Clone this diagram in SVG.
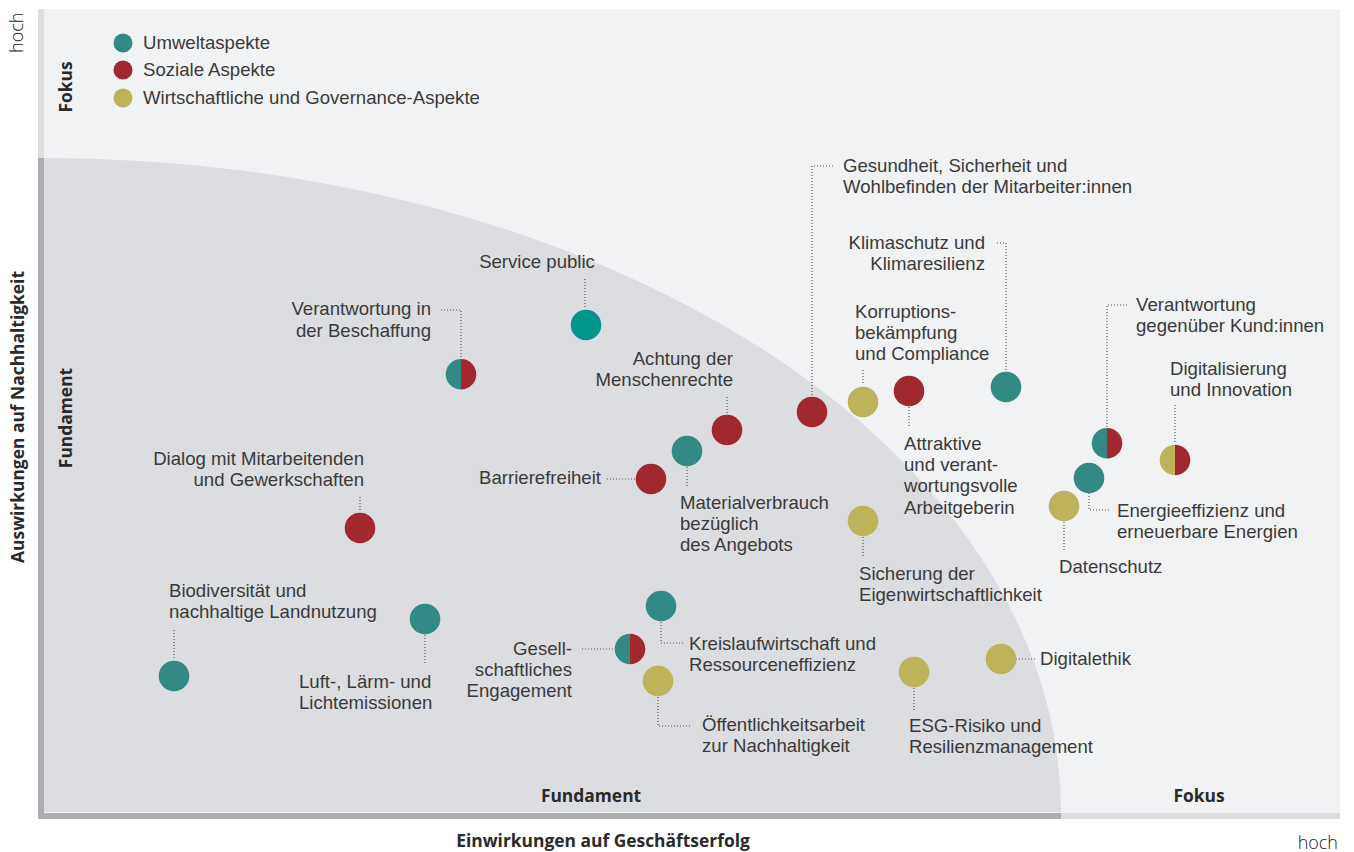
<svg xmlns="http://www.w3.org/2000/svg" width="1354" height="852" viewBox="0 0 1354 852">
<defs>
<style>
.t{font-family:"Liberation Sans",Arial,sans-serif;font-size:18.6px;fill:#3a3a3a;font-weight:400}
.b{font-family:"Open Sans","Liberation Sans",sans-serif;font-size:17.4px;fill:#2a2a2a;font-weight:700}
.h{font-family:"Open Sans","Liberation Sans",sans-serif;font-size:18px;fill:#222;font-weight:300}
.e{fill:#338a84}.s{fill:#a0282e}.w{fill:#bdb35a}.sp{fill:#00968f}
.ld{fill:none;stroke:#555;stroke-width:1.2;stroke-dasharray:1 2}
.r{text-anchor:end}
</style>
</defs>
<rect x="0" y="0" width="1354" height="852" fill="#ffffff"/>
<g id="background">
<rect x="38" y="9" width="1302" height="810" fill="#f1f2f4"/>
<path d="M44,812 L44,158 A1017,654 0 0 1 1061,812 Z" fill="#dcdde0"/>
<rect x="38" y="9" width="6" height="149" fill="#dcdde0"/>
<rect x="38" y="158" width="6" height="661" fill="#adaeb2"/>
<rect x="38" y="813" width="1023" height="6" fill="#adaeb2"/>
<rect x="1061" y="813" width="279" height="6" fill="#dcdde0"/>
</g>
<g id="axes">
<text class="h" transform="translate(23,53) rotate(-90)">hoch</text>
<text class="h r" x="1338" y="849">hoch</text>
<text class="b" transform="translate(24,417) rotate(-90)" text-anchor="middle">Auswirkungen auf Nachhaltigkeit</text>
<text class="b" x="603" y="847" text-anchor="middle">Einwirkungen auf Geschäftserfolg</text>
<text class="b" transform="translate(72,87) rotate(-90)" text-anchor="middle">Fokus</text>
<text class="b" transform="translate(72,418) rotate(-90)" text-anchor="middle">Fundament</text>
<text class="b" x="591" y="802" text-anchor="middle">Fundament</text>
<text class="b" x="1199" y="802" text-anchor="middle">Fokus</text>
</g>
<g id="legend">
<circle class="e" cx="123" cy="43" r="9.5"/><text class="t" x="143" y="49">Umweltaspekte</text>
<circle class="s" cx="123" cy="70" r="9.5"/><text class="t" x="143" y="76">Soziale Aspekte</text>
<circle class="w" cx="123" cy="98" r="9.5"/><text class="t" x="143" y="104">Wirtschaftliche und Governance-Aspekte</text>
</g>
<g id="connectors">
<path class="ld" d="M585,279 V309"/>
<path class="ld" d="M441,310 H461 V358"/>
<path class="ld" d="M727,397 V414"/>
<path class="ld" d="M607,479 H635"/>
<path class="ld" d="M687,467 V488"/>
<path class="ld" d="M360,497 V512"/>
<path class="ld" d="M174,630 V659"/>
<path class="ld" d="M425,635 V663"/>
<path class="ld" d="M582,649 H614"/>
<path class="ld" d="M661,622 V643 H683"/>
<path class="ld" d="M658,697 V726 H692"/>
<path class="ld" d="M863,537 V558"/>
<path class="ld" d="M914,688 V710"/>
<path class="ld" d="M1016,659 H1035"/>
<path class="ld" d="M833,166 H812 V396"/>
<path class="ld" d="M863,370 V385"/>
<path class="ld" d="M909,407 V428"/>
<path class="ld" d="M997,243 H1006 V370"/>
<path class="ld" d="M1127,305 H1107 V427"/>
<path class="ld" d="M1175,405 V444"/>
<path class="ld" d="M1089,493 V510 H1111"/>
<path class="ld" d="M1064,522 V552"/>
</g>
<g id="service-public">
<circle class="sp" cx="586" cy="325" r="15.3"/>
<text class="t" x="537" y="268" text-anchor="middle">Service public</text>
</g>
<g id="verantwortung-beschaffung">
<path class="e" d="M461,359 A15.3,15.3 0 0 0 461,389.6 Z"/>
<path class="s" d="M461,359 A15.3,15.3 0 0 1 461,389.6 Z"/>
<text class="t r" x="431" y="315">Verantwortung in<tspan x="431" dy="22">der Beschaffung</tspan></text>
</g>
<g id="menschenrechte">
<circle class="s" cx="727" cy="430" r="15.3"/>
<text class="t r" x="733" y="365">Achtung der<tspan x="733" dy="21">Menschenrechte</tspan></text>
</g>
<g id="barrierefreiheit">
<circle class="s" cx="651" cy="479" r="15.3"/>
<text class="t r" x="601" y="484">Barrierefreiheit</text>
</g>
<g id="materialverbrauch">
<circle class="e" cx="687" cy="451" r="15.3"/>
<text class="t" x="680" y="509">Materialverbrauch<tspan x="680" dy="21">bezüglich</tspan><tspan x="680" dy="21">des Angebots</tspan></text>
</g>
<g id="dialog">
<circle class="s" cx="360" cy="528" r="15.3"/>
<text class="t r" x="364" y="465">Dialog mit Mitarbeitenden<tspan x="364" dy="21">und Gewerkschaften</tspan></text>
</g>
<g id="biodiversitaet">
<circle class="e" cx="174" cy="676" r="15.3"/>
<text class="t" x="169" y="597">Biodiversität und<tspan x="169" dy="21">nachhaltige Landnutzung</tspan></text>
</g>
<g id="emissionen">
<circle class="e" cx="425" cy="619" r="15.3"/>
<text class="t" x="299" y="688">Luft-, Lärm- und<tspan x="299" dy="21">Lichtemissionen</tspan></text>
</g>
<g id="engagement">
<path class="e" d="M630,633.7 A15.3,15.3 0 0 0 630,664.3 Z"/>
<path class="s" d="M630,633.7 A15.3,15.3 0 0 1 630,664.3 Z"/>
<text class="t r" x="572" y="655">Gesell-<tspan x="572" dy="21">schaftliches</tspan><tspan x="572" dy="21">Engagement</tspan></text>
</g>
<g id="kreislaufwirtschaft">
<circle class="e" cx="661" cy="606" r="15.3"/>
<text class="t" x="689" y="650">Kreislaufwirtschaft und<tspan x="689" dy="21">Ressourceneffizienz</tspan></text>
</g>
<g id="oeffentlichkeitsarbeit">
<circle class="w" cx="658" cy="681" r="15.3"/>
<text class="t" x="702" y="731">Öffentlichkeitsarbeit<tspan x="702" dy="21">zur Nachhaltigkeit</tspan></text>
</g>
<g id="eigenwirtschaftlichkeit">
<circle class="w" cx="863" cy="521" r="15.3"/>
<text class="t" x="859" y="580">Sicherung der<tspan x="859" dy="21">Eigenwirtschaftlichkeit</tspan></text>
</g>
<g id="esg">
<circle class="w" cx="914" cy="672" r="15.3"/>
<text class="t" x="909" y="732">ESG-Risiko und<tspan x="909" dy="21">Resilienzmanagement</tspan></text>
</g>
<g id="digitalethik">
<circle class="w" cx="1001" cy="659" r="15.3"/>
<text class="t" x="1040" y="665">Digitalethik</text>
</g>
<g id="gesundheit">
<circle class="s" cx="812" cy="412" r="15.3"/>
<text class="t" x="843" y="172">Gesundheit, Sicherheit und<tspan x="843" dy="21">Wohlbefinden der Mitarbeiter:innen</tspan></text>
</g>
<g id="korruption">
<circle class="w" cx="863" cy="402" r="15.3"/>
<text class="t" x="855" y="318">Korruptions-<tspan x="855" dy="21">bekämpfung</tspan><tspan x="855" dy="21">und Compliance</tspan></text>
</g>
<g id="arbeitgeberin">
<circle class="s" cx="909" cy="391" r="15.3"/>
<text class="t" x="904" y="450">Attraktive<tspan x="904" dy="21">und verant-</tspan><tspan x="904" dy="21">wortungsvolle</tspan><tspan x="904" dy="22">Arbeitgeberin</tspan></text>
</g>
<g id="klimaschutz">
<circle class="e" cx="1006" cy="387" r="15.3"/>
<text class="t r" x="985" y="249">Klimaschutz und<tspan x="985" dy="21">Klimaresilienz</tspan></text>
</g>
<g id="kundinnen">
<path class="e" d="M1107,428 A15.3,15.3 0 0 0 1107,458.6 Z"/>
<path class="s" d="M1107,428 A15.3,15.3 0 0 1 1107,458.6 Z"/>
<text class="t" x="1136" y="311">Verantwortung<tspan x="1136" dy="21">gegenüber Kund:innen</tspan></text>
</g>
<g id="digitalisierung">
<path class="w" d="M1175,444.7 A15.3,15.3 0 0 0 1175,475.3 Z"/>
<path class="s" d="M1175,444.7 A15.3,15.3 0 0 1 1175,475.3 Z"/>
<text class="t" x="1170" y="375">Digitalisierung<tspan x="1170" dy="21">und Innovation</tspan></text>
</g>
<g id="energie">
<circle class="e" cx="1089" cy="478" r="15.3"/>
<text class="t" x="1117" y="517">Energieeffizienz und<tspan x="1117" dy="21">erneuerbare Energien</tspan></text>
</g>
<g id="datenschutz">
<circle class="w" cx="1064" cy="506" r="15.3"/>
<text class="t" x="1059" y="573">Datenschutz</text>
</g>
</svg>
